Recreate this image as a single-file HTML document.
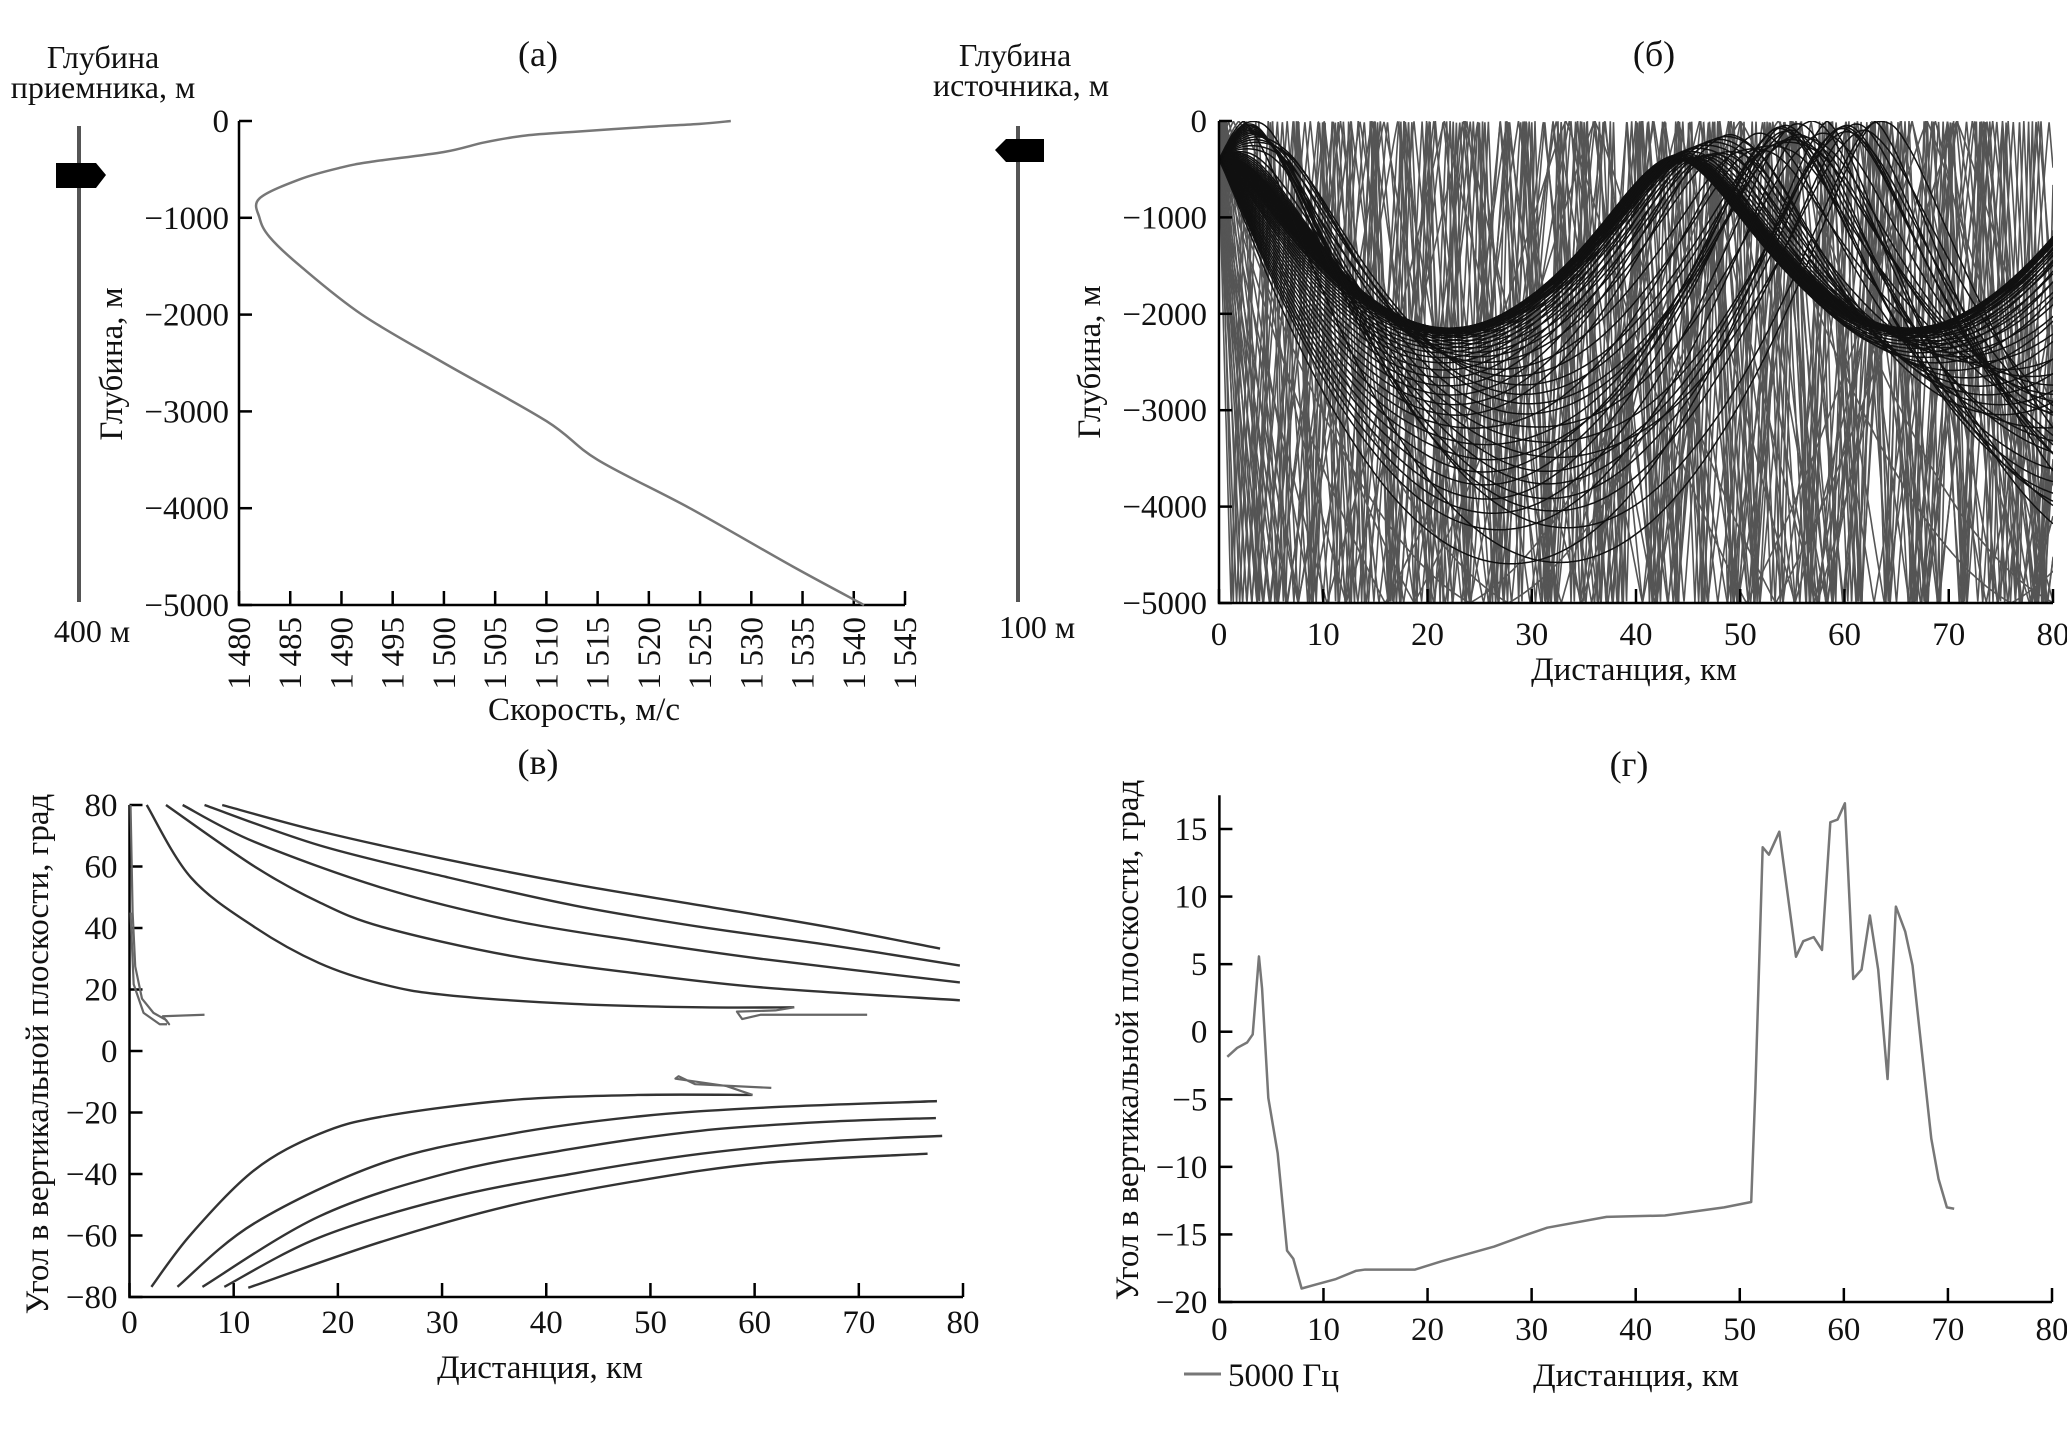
<!DOCTYPE html>
<html><head><meta charset="utf-8"><style>
html,body{margin:0;padding:0;background:#fff}
svg{display:block}
text{font-family:"Liberation Serif","DejaVu Serif",serif;fill:#111}
</style></head><body>
<svg id="fig" xmlns="http://www.w3.org/2000/svg" width="2067" height="1431" viewBox="0 0 2067 1431">
<rect width="2067" height="1431" fill="#fff"/>
<text x="538" y="66" font-size="36" text-anchor="middle">(а)</text>
<text x="1654" y="66" font-size="36" text-anchor="middle">(б)</text>
<text x="538" y="774" font-size="36" text-anchor="middle">(в)</text>
<text x="1629" y="776" font-size="36" text-anchor="middle">(г)</text>

<text x="103" y="68" font-size="32" text-anchor="middle">Глубина</text>
<text x="103" y="98" font-size="32" text-anchor="middle">приемника, м</text>
<text x="92" y="642" font-size="32" text-anchor="middle">400 м</text>
<line x1="79" y1="126" x2="79" y2="602" stroke="#555" stroke-width="4"/>
<path d="M56 163 L96 163 L106 175 L96 188 L56 188 Z" fill="#000"/>

<text x="1015" y="66" font-size="32" text-anchor="middle">Глубина</text>
<text x="1021" y="96" font-size="32" text-anchor="middle">источника, м</text>
<text x="1037" y="638" font-size="32" text-anchor="middle">100 м</text>
<line x1="1018" y1="126" x2="1018" y2="602" stroke="#555" stroke-width="4"/>
<path d="M1044 139 L1006 139 L995 150 L1006 162 L1044 162 Z" fill="#000"/>

<text transform="translate(122,364) rotate(-90)" font-size="33" text-anchor="middle">Глубина, м</text>
<text x="584" y="720" font-size="33" text-anchor="middle">Скорость, м/с</text>
<text transform="translate(1100,362) rotate(-90)" font-size="33" text-anchor="middle">Глубина, м</text>
<text x="1634" y="680" font-size="33" text-anchor="middle">Дистанция, км</text>
<text transform="translate(48,1054) rotate(-90)" font-size="33" text-anchor="middle">Угол в вертикальной плоскости, град</text>
<text x="540" y="1378" font-size="33" text-anchor="middle">Дистанция, км</text>
<text transform="translate(1138,1040) rotate(-90)" font-size="33" text-anchor="middle">Угол в вертикальной плоскости, град</text>
<text x="1636" y="1386" font-size="33" text-anchor="middle">Дистанция, км</text>
<line x1="1184" y1="1374" x2="1221" y2="1374" stroke="#777" stroke-width="3"/>
<text x="1228" y="1386" font-size="33">5000 Гц</text>
<g id="dyn"></g>
</svg>
<script>
// ---------- data ----------
const profDepth=[0,30,60,110,150,220,320,420,480,600,800,1000,1200,1500,2000,2500,3100,3500,4000,4600,5000];
const profSpeed=[1528,1525,1520,1513,1508,1504,1500,1493,1490,1486,1482,1482,1483,1486,1492,1500,1510,1515,1524,1534,1541];
const aXTicks=[1480,1485,1490,1495,1500,1505,1510,1515,1520,1525,1530,1535,1540,1545];
const depthTicks=[0,1000,2000,3000,4000,5000];
const distTicks=[0,10,20,30,40,50,60,70,80];
const steepAngles=[76,-76,70,-70,64,-64,60,-60,56,-56,52,-52,48,-48,44,-44,40,-40,36,-36,32,-32,25,-25,18,-18,14.5,-14.5];
const rayAngles=[0,0.25,-0.25,0.5,-0.5,0.75,-0.75,1,-1,1.25,-1.25,1.5,-1.5,1.75,-1.75,2,-2,2.3,-2.3,2.6,-2.6,3,-3,3.4,-3.4,3.8,-3.8,4.2,-4.2,4.6,-4.6,5,-5,5.5,-5.5,6,-6,6.5,-6.5,7,-7,7.5,-7.5,8,-8,8.5,-8.5,9,-9,9.5,-9.5,10,-10,10.5,-10.5,11,-11,11.5,-11.5,12,-12,13,-13];
const sourceDepth=400;
const vU1=[[1.65,80],[5.9,56.4],[12,40.3],[18.2,28.6],[24.3,21.7],[30.4,18.2],[42.7,15.3],[54.9,14.2],[63.8,14.2]];
const vU1tail=[[63.8,14.2],[62,13.2],[58.3,12.8],[58.8,10.4],[60.6,11.8],[70.8,11.8]];
const vU2=[[3.5,80],[12,60],[18.2,48.4],[24.3,40.3],[36.5,31],[48.8,25.2],[61,20.6],[79.7,16.5]];
const vU3=[[5.1,80],[12,68],[24.3,53],[36.5,42.6],[48.8,35.7],[61,29.8],[79.7,22.3]];
const vU4=[[7.2,80],[18.2,66.9],[30.4,56.6],[42.7,47.3],[54.9,40.3],[67.1,34.5],[79.7,27.8]];
const vU5=[[8.9,80],[18.2,71.5],[30.4,62.3],[42.7,54.2],[54.9,47.3],[67.1,40.3],[77.8,33.3]];
const vL1=[[2.1,-76.7],[5.9,-59.6],[12,-38.7],[18.2,-27],[24.3,-21.3],[36.5,-16],[48.8,-14.3],[59.8,-14.3]];
const vL1tail=[[59.8,-14.3],[57.3,-11.4],[52.4,-9],[52.7,-8.2],[54.3,-10.8],[61.6,-12]];
const vL2=[[4.6,-76.7],[12,-56],[24.3,-36.4],[36.5,-27],[48.8,-21.3],[61,-18.4],[77.5,-16.3]];
const vL3=[[7,-76.7],[18.2,-53.8],[30.4,-39.8],[42.7,-31.7],[54.9,-25.9],[67.1,-23],[77.4,-21.8]];
const vL4=[[9.1,-76.7],[18.2,-60.7],[30.4,-48],[42.7,-39.8],[54.9,-33.4],[67.1,-29.4],[78,-27.6]];
const vL5=[[11.4,-77],[24.3,-61.9],[36.5,-50.3],[48.8,-42.2],[61,-36.4],[76.6,-33.4]];
const vS1=[[0.1,80],[0.3,45],[0.55,27.5],[1.2,17],[2.3,12.4],[3.5,10.1],[3.8,8.7],[3.2,11.3],[7.2,11.8]];
const vS2=[[0.1,45],[0.4,21.7],[1.35,12.4],[2.9,8.7],[3.6,8.7]];
const vTicks=[-80,-60,-40,-20,0,20,40,60,80];
const gDist=[0.76,1.7,2.66,3.2,3.8,4.1,4.7,5.6,6.5,7.1,7.9,9.3,11.2,13.1,14,18.8,21.3,26.4,29.6,31.5,37.2,42.8,48.5,51.1,51.5,52.2,52.8,53.8,55.4,56.1,57.1,57.9,58.7,59.4,60.1,60.9,61.7,62.5,63.3,64.2,65,65.9,66.6,67.5,68.4,69.1,69.9,70.6];
const gAngle=[-1.86,-1.2,-0.8,-0.2,5.57,3.2,-4.9,-9,-16.2,-16.8,-19,-18.7,-18.3,-17.7,-17.6,-17.6,-17,-15.9,-15,-14.5,-13.7,-13.6,-13,-12.6,-4.2,13.65,13.1,14.8,5.55,6.7,7,6.05,15.5,15.7,16.9,3.9,4.6,8.6,4.6,-3.5,9.26,7.4,4.9,-1.5,-7.9,-10.9,-13,-13.1];
const gTicks=[-20,-15,-10,-5,0,5,10,15];

// ---------- helpers ----------
const NS='http://www.w3.org/2000/svg';
const root=document.getElementById('dyn');
function mk(tag,attrs,parent){const e=document.createElementNS(NS,tag);for(const k in attrs)e.setAttribute(k,attrs[k]);(parent||root).appendChild(e);return e;}
function lin(d0,d1,r0,r1){return v=>r0+(v-d0)/(d1-d0)*(r1-r0);}
function fmt(v){return (v<0?'\u2212':'')+Math.abs(v);}
function fmtSp(v){const s=String(Math.abs(v));return (v<0?'\u2212':'')+(s.length>3?s.slice(0,s.length-3)+'\u2009'+s.slice(-3):s);}
function smooth(P){let d=`M${P[0][0]} ${P[0][1]}`;for(let i=0;i<P.length-1;i++){const p0=P[Math.max(0,i-1)],p1=P[i],p2=P[i+1],p3=P[Math.min(P.length-1,i+2)];d+=` C${p1[0]+(p2[0]-p0[0])/6} ${p1[1]+(p2[1]-p0[1])/6} ${p2[0]-(p3[0]-p1[0])/6} ${p2[1]-(p3[1]-p1[1])/6} ${p2[0]} ${p2[1]}`;}return d;}

// ---------- panel a ----------
const ax=lin(1480,1545,239,905), ay=lin(0,5000,121,605);
(function(){
  const g=mk('g',{});
  
  
  const axl=mk('path',{d:`M${ax(1480)} ${ay(0)} L${ax(1480)} ${ay(5000)} L${ax(1545)} ${ay(5000)}`,fill:'none',stroke:'#000','stroke-width':2.5},g);
  
  
  depthTicks.forEach(d=>{
    const t=mk('line',{x1:ax(1480),x2:ax(1480)+13,y1:ay(d),y2:ay(d),stroke:'#000','stroke-width':2.5},g);
    
    
    const l=mk('text',{x:ax(1480)-10,y:ay(d)+11,'font-size':33,'text-anchor':'end'},g);
    
    
    l.textContent=fmt(-d);
  });
  aXTicks.forEach(v=>{
    const t=mk('line',{x1:ax(v),x2:ax(v),y1:ay(5000),y2:ay(5000)-14,stroke:'#000','stroke-width':2.5},g);
    
    
    const l=mk('text',{transform:`translate(${ax(v)+11},${ay(5000)+12}) rotate(-90)`,'font-size':33,'text-anchor':'end'},g);
    
    
    l.textContent=fmtSp(v);
  });
  const p=mk('path',{d:smooth(profDepth.map((d,i)=>[ax(profSpeed[i]),ay(d)])),fill:'none',stroke:'#777','stroke-width':2.5},g);
  
  
})();

// ---------- panel b (ray tracing) ----------
const bx=lin(0,80,1219,2053), by=lin(0,5000,121,603);
function cAt(z){for(let i=1;i<profDepth.length;i++){if(z<=profDepth[i]){const t=(z-profDepth[i-1])/(profDepth[i]-profDepth[i-1]);return [profSpeed[i-1]+t*(profSpeed[i]-profSpeed[i-1]),(profSpeed[i]-profSpeed[i-1])/(profDepth[i]-profDepth[i-1])];}}return [profSpeed[profSpeed.length-1],0];}
function trace(a){
  let x=0,z=sourceDepth,th=a*Math.PI/180;const ds=20;const pts=[[x,z]];let n=0;
  while(x<80000&&n<200000){
    const [c,dc]=cAt(z);
    th+=-(Math.cos(th)/c)*dc*ds;
    x+=Math.cos(th)*ds;z+=Math.sin(th)*ds;n++;
    let refl=false;
    if(z<0){z=-z;th=-th;refl=true;}
    if(z>5000){z=10000-z;th=-th;refl=true;}
    if(refl||n%8===0)pts.push([x,z]);
  }
  pts.push([x,z]);
  return pts;
}
(function(){
  const g=mk('g',{});
  
  
  const defs=mk('defs',{},g);
  const cp=mk('clipPath',{id:'clipb'},defs);
  mk('rect',{x:bx(0),y:by(0),width:bx(80)-bx(0),height:by(5000)-by(0)},cp);
  const rays=mk('g',{'clip-path':'url(#clipb)'},g);
  
  
  steepAngles.forEach(a=>{
    const pts=trace(a);
    const pl=mk('polyline',{points:pts.map(p=>bx(p[0]/1000).toFixed(1)+','+by(p[1]).toFixed(1)).join(' '),fill:'none',stroke:'#555','stroke-width':1.6},rays);
    
    
  });
  rayAngles.forEach(a=>{
    const pts=trace(a);
    const pl=mk('polyline',{points:pts.map(p=>bx(p[0]/1000).toFixed(1)+','+by(p[1]).toFixed(1)).join(' '),fill:'none',stroke:'#111','stroke-width':1.5},rays);
    
    
  });
  const axl=mk('path',{d:`M${bx(0)} ${by(0)} L${bx(0)} ${by(5000)} L${bx(80)} ${by(5000)}`,fill:'none',stroke:'#000','stroke-width':2.5},g);
  
  
  depthTicks.forEach(d=>{
    const t=mk('line',{x1:bx(0),x2:bx(0)+13,y1:by(d),y2:by(d),stroke:'#000','stroke-width':2.5},g);
    
    
    const l=mk('text',{x:bx(0)-12,y:by(d)+11,'font-size':33,'text-anchor':'end'},g);
    
    
    l.textContent=fmt(-d);
  });
  distTicks.forEach(v=>{
    const t=mk('line',{x1:bx(v),x2:bx(v),y1:by(5000),y2:by(5000)-14,stroke:'#000','stroke-width':2.5},g);
    
    
    const l=mk('text',{x:bx(v),y:by(5000)+42,'font-size':33,'text-anchor':'middle'},g);
    
    
    l.textContent=String(v);
  });
})();

// ---------- panel v ----------
const vx=lin(0,80,129.5,963), vy=lin(80,-80,805,1297);
(function(){
  const g=mk('g',{});
  
  
  const axl=mk('path',{d:`M${vx(0)} ${vy(80)} L${vx(0)} ${vy(-80)} L${vx(80)} ${vy(-80)}`,fill:'none',stroke:'#000','stroke-width':2.5},g);
  
  
  vTicks.forEach(d=>{
    const t=mk('line',{x1:vx(0),x2:vx(0)+13,y1:vy(d),y2:vy(d),stroke:'#000','stroke-width':2.5},g);
    
    
    const l=mk('text',{x:vx(0)-12,y:vy(d)+11,'font-size':33,'text-anchor':'end'},g);
    
    
    l.textContent=fmt(d);
  });
  distTicks.forEach(v=>{
    const t=mk('line',{x1:vx(v),x2:vx(v),y1:vy(-80),y2:vy(-80)-14,stroke:'#000','stroke-width':2.5},g);
    
    
    const l=mk('text',{x:vx(v),y:vy(-80)+36,'font-size':33,'text-anchor':'middle'},g);
    
    
    l.textContent=String(v);
  });
  [vU1,vU2,vU3,vU4,vU5,vL1,vL2,vL3,vL4,vL5].forEach(arr=>{
    const p=mk('path',{d:smooth(arr.map(q=>[vx(q[0]),vy(q[1])])),fill:'none',stroke:'#333','stroke-width':2.4},g);
    
    
  });
  [vU1tail,vL1tail,vS1,vS2].forEach(arr=>{
    const p=mk('polyline',{points:arr.map(q=>vx(q[0])+','+vy(q[1])).join(' '),fill:'none',stroke:'#666','stroke-width':2.2,'stroke-linejoin':'round'},g);
    
    
  });
})();

// ---------- panel g ----------
const gx=lin(0,80,1219.4,2052), gy=lin(15,-20,829,1302);
(function(){
  const g=mk('g',{});
  
  
  const axl=mk('path',{d:`M${gx(0)} ${gy(17.5)} L${gx(0)} ${gy(-20)} L${gx(80)} ${gy(-20)}`,fill:'none',stroke:'#000','stroke-width':2.5},g);
  
  
  gTicks.forEach(d=>{
    const t=mk('line',{x1:gx(0),x2:gx(0)+13,y1:gy(d),y2:gy(d),stroke:'#000','stroke-width':2.5},g);
    
    
    const l=mk('text',{x:gx(0)-12,y:gy(d)+11,'font-size':33,'text-anchor':'end'},g);
    
    
    l.textContent=fmt(d);
  });
  distTicks.forEach(v=>{
    const t=mk('line',{x1:gx(v),x2:gx(v),y1:gy(-20),y2:gy(-20)-14,stroke:'#000','stroke-width':2.5},g);
    
    
    const l=mk('text',{x:gx(v),y:gy(-20)+38,'font-size':33,'text-anchor':'middle'},g);
    
    
    l.textContent=String(v);
  });
  const p=mk('polyline',{points:gDist.map((d,i)=>gx(d)+','+gy(gAngle[i])).join(' '),fill:'none',stroke:'#777','stroke-width':2.5,'stroke-linejoin':'round'},g);
  
  
})();
</script>
</body></html>
